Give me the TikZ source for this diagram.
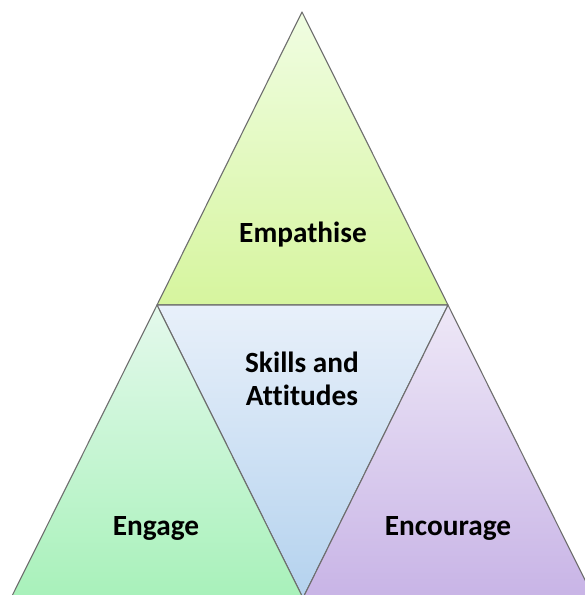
\documentclass[tikz,border=0pt]{standalone}
\usepackage{fontspec}
\setmainfont[Ligatures=NoCommon]{Carlito}
\definecolor{empTop}{HTML}{F0FDE2}
\definecolor{empBot}{HTML}{D6F59E}
\definecolor{sklTop}{HTML}{E8F0FA}
\definecolor{sklBot}{HTML}{B4D2EE}
\definecolor{engTop}{HTML}{E4F9EC}
\definecolor{engBot}{HTML}{A8F1BA}
\definecolor{encTop}{HTML}{EEE8F7}
\definecolor{encBot}{HTML}{C8B4E6}
\definecolor{edge}{HTML}{6E6E6E}
\tikzset{
  tri/.style={draw=edge, line width=1.1pt},
  label/.style={font=\fontsize{29.3}{35}\selectfont\bfseries, anchor=base, inner sep=0pt, text=black}
}
\begin{document}
\begin{tikzpicture}[x=1pt, y=-1pt, line join=round, line cap=round]
		\useasboundingbox (0,0) rectangle (585,595);
		\clip (0,0) rectangle (585,595);
		% corners
		\coordinate (top) at (302,12);
		\coordinate (midL) at (157,305);
		\coordinate (midR) at (448,305);
		\coordinate (bot) at (303,598);
		\coordinate (botL) at (11,598);
		\coordinate (botR) at (594,598);
		% triangles
		\draw[tri, top color=empTop, bottom color=empBot] (top)--(midR)--(midL)--cycle;
		\draw[tri, top color=sklTop, bottom color=sklBot] (midL)--(midR)--(bot)--cycle;
		\draw[tri, top color=engTop, bottom color=engBot] (midL)--(bot)--(botL)--cycle;
		\draw[tri, top color=encTop, bottom color=encBot] (midR)--(botR)--(bot)--cycle;
		% texts (baselines)
		\node[label] (emp) at (303,242) {Empathise};
		\node[label] (skl) at (302,372) {Skills and};
		\node[label] (att) at (302,405) {Attitudes};
		\node[label] (eng) at (156,535) {Engage};
		\node[label] (enc) at (448,535) {Encourage};
\end{tikzpicture}
\end{document}
